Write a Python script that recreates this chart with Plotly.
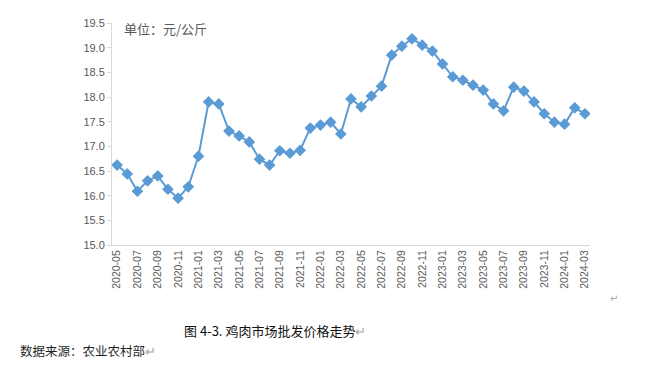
import plotly.graph_objects as go

months = ["2020-05","2020-06","2020-07","2020-08","2020-09","2020-10","2020-11","2020-12",
          "2021-01","2021-02","2021-03","2021-04","2021-05","2021-06","2021-07","2021-08",
          "2021-09","2021-10","2021-11","2021-12","2022-01","2022-02","2022-03","2022-04",
          "2022-05","2022-06","2022-07","2022-08","2022-09","2022-10","2022-11","2022-12",
          "2023-01","2023-02","2023-03","2023-04","2023-05","2023-06","2023-07","2023-08",
          "2023-09","2023-10","2023-11","2023-12","2024-01","2024-02","2024-03"]
prices = [16.62,16.44,16.09,16.30,16.40,16.13,15.95,16.18,
          16.80,17.90,17.86,17.31,17.21,17.09,16.74,16.62,
          16.91,16.86,16.92,17.37,17.43,17.49,17.25,17.96,
          17.80,18.02,18.22,18.85,19.03,19.18,19.05,18.93,
          18.67,18.41,18.34,18.24,18.14,17.86,17.72,18.20,
          18.12,17.90,17.66,17.49,17.45,17.78,17.66]
tick_labels = months[::2]
y_ticks = [15.0,15.5,16.0,16.5,17.0,17.5,18.0,18.5,19.0,19.5]

fig = go.Figure(go.Scatter(
    x=months, y=prices, mode="lines+markers",
    line=dict(color="#5B9BD5", width=2),
    marker=dict(symbol="diamond", size=9, color="#5B9BD5"),
))

L, T = 104, 9
fig.update_layout(
    width=646, height=377,
    margin=dict(l=L, r=646-L-478, t=T, b=377-T-228),
    paper_bgcolor="white", plot_bgcolor="white",
    showlegend=False,
    font=dict(family="Liberation Sans, Arial, sans-serif", color="#595959"),
    xaxis=dict(type="category", range=[-0.5, len(months)-0.5],
               tickmode="array", tickvals=tick_labels, ticktext=tick_labels,
               tickangle=-90, tickfont=dict(size=10.5, color="#595959"),
               showgrid=False, showline=True, linecolor="#D9D9D9", linewidth=1,
               ticks="", zeroline=False),
    yaxis=dict(range=[15, 19.5], tickvals=y_ticks, tickformat=".1f",
               tickfont=dict(size=11, color="#595959"),
               showgrid=False, showline=True, linecolor="#D9D9D9", linewidth=1,
               ticks="outside", ticklen=4, tickcolor="#D9D9D9",
               zeroline=False),
    annotations=[
        dict(text="单位：元/公斤", xref="paper", yref="paper", x=0.02, y=0.975,
             xanchor="left", yanchor="middle", showarrow=False,
             font=dict(family="Noto Sans CJK SC", size=13, color="#595959")),
        dict(text="图 4-3. 鸡肉市场批发价格走势<span style='color:#A6A6A6'>↵</span>",
             xref="paper", yref="paper", x=(275-112)/478, y=-(333-245)/228,
             xanchor="center", yanchor="middle", showarrow=False,
             font=dict(family="Noto Sans CJK SC", size=13, color="#111111")),
        dict(text="数据来源：农业农村部<span style='color:#A6A6A6'>↵</span>",
             xref="paper", yref="paper", x=(18-112)/478, y=-(353-245)/228,
             xanchor="left", yanchor="middle", showarrow=False,
             font=dict(family="Noto Sans CJK SC", size=12.5, color="#1F1F1F")),
        dict(text="↵", xref="paper", yref="paper", x=(614-112)/478, y=-(300-245)/228,
             xanchor="center", yanchor="middle", showarrow=False,
             font=dict(family="DejaVu Sans", size=10, color="#A6A6A6")),
    ],
)

fig.write_html("out.html")
